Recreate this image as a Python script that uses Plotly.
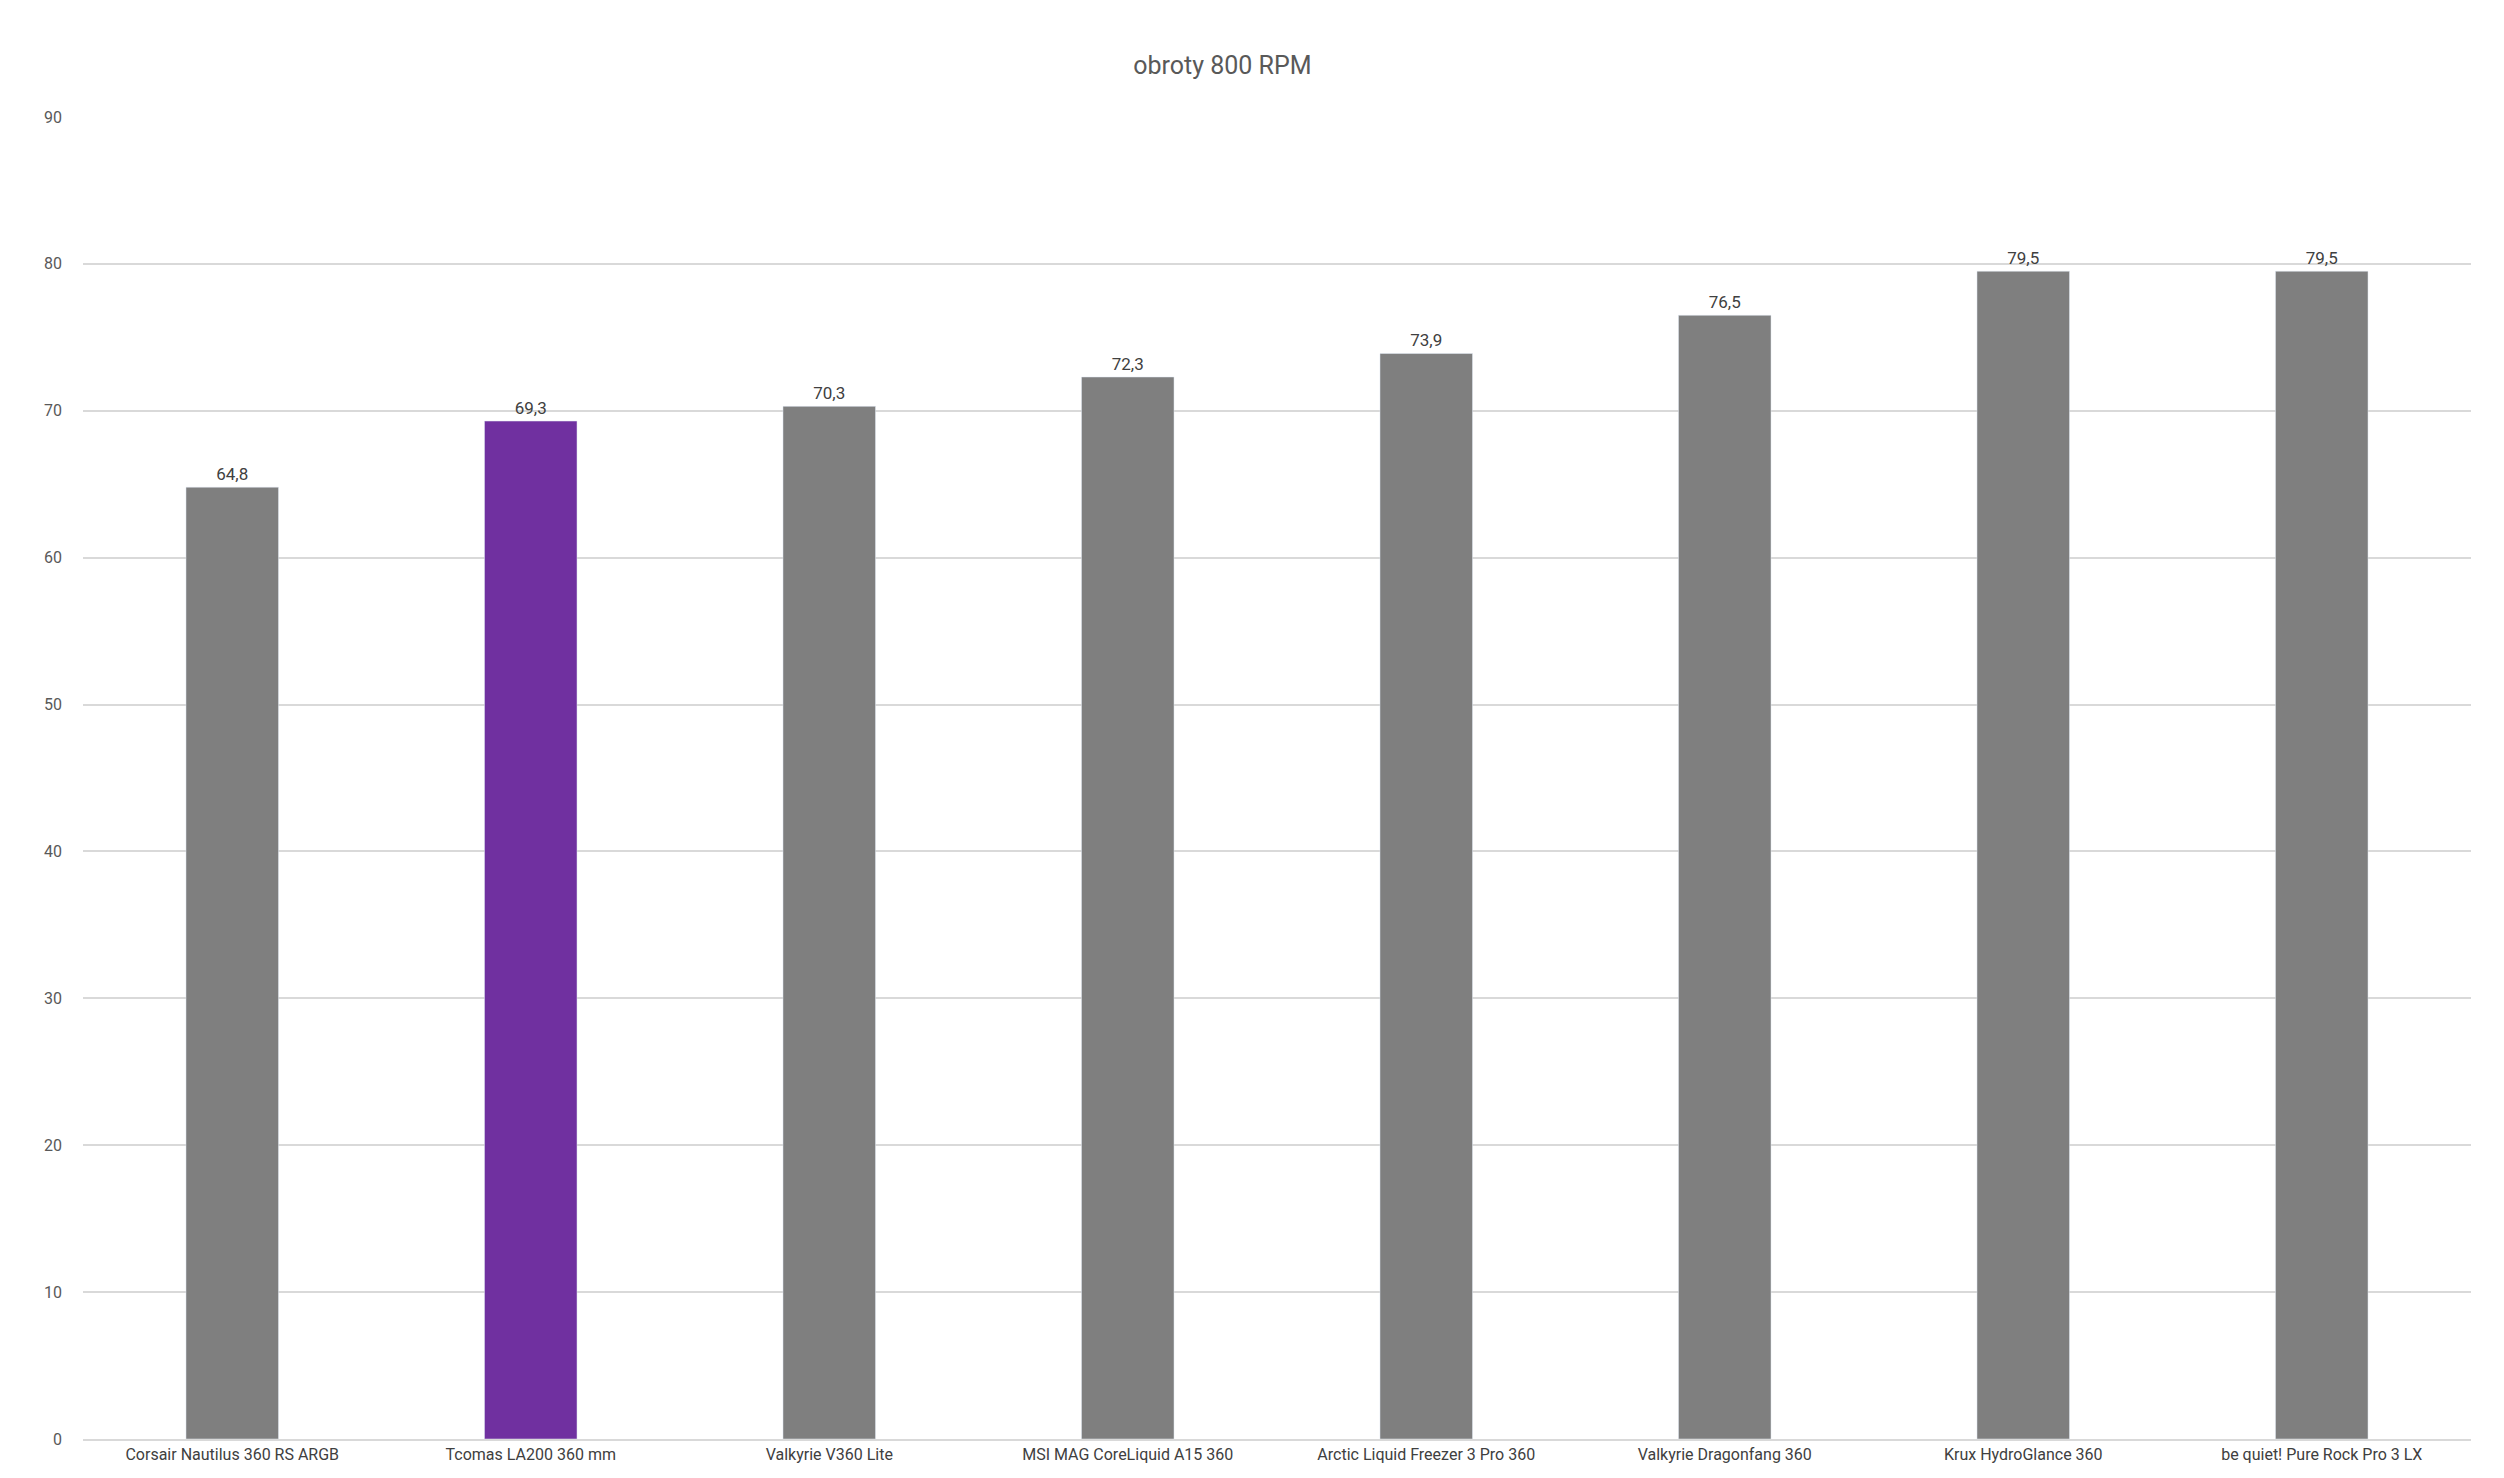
import plotly.graph_objects as go

categories = [
    "Corsair Nautilus 360 RS ARGB",
    "Tcomas LA200 360 mm",
    "Valkyrie V360 Lite",
    "MSI MAG CoreLiquid A15 360",
    "Arctic Liquid Freezer 3 Pro 360",
    "Valkyrie Dragonfang 360",
    "Krux HydroGlance 360",
    "be quiet! Pure Rock Pro 3 LX",
]
values = [64.8, 69.3, 70.3, 72.3, 73.9, 76.5, 79.5, 79.5]
highlight = "Tcomas LA200 360 mm"

colors = ["#7030A0" if c == highlight else "#7F7F7F" for c in categories]
labels = [f"{v:.1f}".replace(".", ",") for v in values]

fig = go.Figure(go.Bar(
    x=categories,
    y=values,
    marker_color=colors,
    width=0.31,
    text=labels,
    textposition="outside",
    textfont=dict(size=17, color="#404040"),
    cliponaxis=False,
))

fig.update_layout(
    title=dict(text="obroty 800 RPM", x=0.485, xanchor="center", y=0.967,
               font=dict(size=25, color="#595959")),
    font=dict(family="Roboto, Liberation Sans, sans-serif", color="#595959", size=16),
    plot_bgcolor="white",
    paper_bgcolor="white",
    width=2504, height=1478,
    margin=dict(l=75, r=41, t=109, b=47),
    showlegend=False,
    bargap=0.69,
)
fig.update_yaxes(range=[0, 90], dtick=10, gridcolor="#D9D9D9", gridwidth=1.5,
                 zeroline=False, showline=False, tickfont=dict(size=16), ticklen=0,
                 ticklabelstandoff=20)
fig.update_xaxes(showline=True, linecolor="#D9D9D9", linewidth=1.5,
                 tickfont=dict(size=16, color="#404040"))

fig.write_html("out.html")
